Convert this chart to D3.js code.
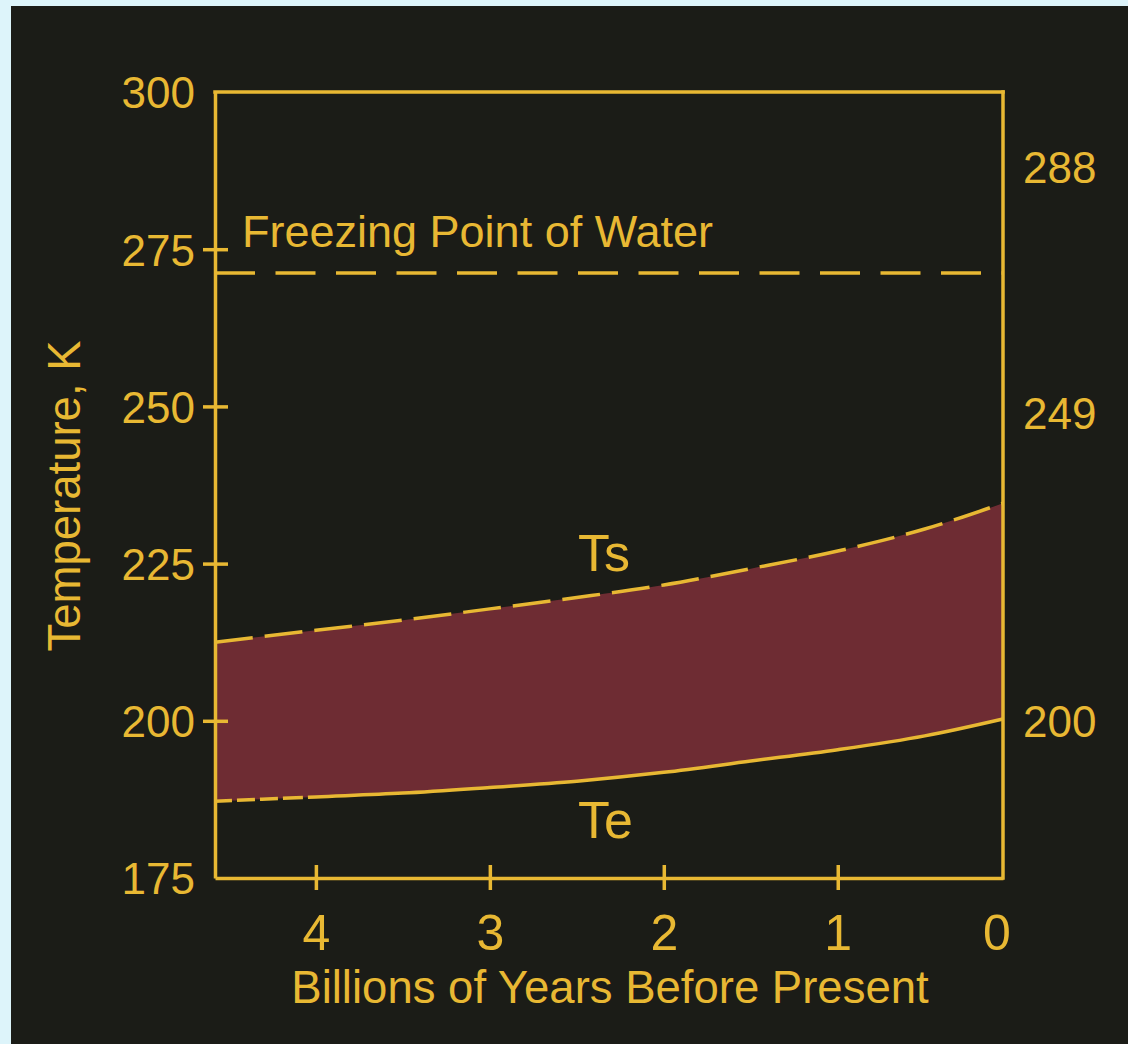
<!DOCTYPE html>
<html>
<head>
<meta charset="utf-8">
<script src="https://cdn.jsdelivr.net/npm/d3@7"></script>
<style>
  html, body { margin: 0; padding: 0; background: #ddf4fa; }
  svg { display: block; }
  text { font-family: "Liberation Sans", Arial, sans-serif; fill: #e8b833; }
</style>
</head>
<body>
<script>
// Age axis: billions of years before present (oldest on the left)
const years = [4.58, 4, 3.5, 3, 2.5, 2, 1.5, 1, 0.5, 0.05];
// Surface temperature Ts (K)
const surfaceTemp = [212.5, 214.4, 216.0, 217.8, 219.6, 221.6, 224.2, 227.0, 230.5, 234.6];
// Effective radiating temperature Te (K)
const effectiveTemp = [187.2, 187.9, 188.5, 189.4, 190.4, 191.8, 193.6, 195.4, 197.6, 200.3];
// Freezing point reference line (K)
const freezingLevel = [271.2];

const yTicks = [175, 200, 225, 250, 275, 300];
const xTicks = [4, 3, 2, 1];
const xEndLabel = ["0"];
const rightLabels = [288, 249, 200];

const gold = "#e8b833";
const band = "#6e2c33";
const W = 1128, H = 1044;

const svg = d3.select("body").append("svg").attr("width", W).attr("height", H);
svg.append("rect").attr("x", 11).attr("y", 6).attr("width", W - 11).attr("height", H - 6)
  .attr("fill", "#1b1c17");

const x = d3.scaleLinear().domain([years[0], years[years.length - 1]]).range([215, 1003]);
const y = d3.scaleLinear().domain([175, 300]).range([878, 92]);

const pts = years.map((v, i) => ({ t: v, ts: surfaceTemp[i], te: effectiveTemp[i] }));

// Band between the two temperatures
svg.append("path").datum(pts)
  .attr("fill", band)
  .attr("d", d3.area().x(d => x(d.t)).y0(d => y(d.te)).y1(d => y(d.ts)).curve(d3.curveMonotoneX));

// Ts curve (dashed)
svg.append("path").datum(pts)
  .attr("fill", "none").attr("stroke", gold).attr("stroke-width", 3.5)
  .attr("stroke-dasharray", "38,12")
  .attr("d", d3.line().x(d => x(d.t)).y(d => y(d.ts)).curve(d3.curveMonotoneX));

// Te curve (short dashes at the oldest end, then solid)
svg.append("path").datum(pts)
  .attr("fill", "none").attr("stroke", gold).attr("stroke-width", 3.5)
  .attr("stroke-dasharray", "17,5,18,5,18,5,20,5,3000")
  .attr("d", d3.line().x(d => x(d.t)).y(d => y(d.te)).curve(d3.curveMonotoneX));

// Freezing point line
svg.selectAll(".freeze").data(freezingLevel).enter().append("line")
  .attr("x1", x.range()[0]).attr("x2", x.range()[1])
  .attr("y1", d => y(d)).attr("y2", d => y(d))
  .attr("stroke", gold).attr("stroke-width", 3.5).attr("stroke-dasharray", "40,20.5");

// Left axis
const gy = svg.append("g").attr("transform", `translate(${x.range()[0]},0)`)
  .call(d3.axisLeft(y).tickValues(yTicks).tickSize(12).tickSizeOuter(0).tickPadding(8)
    .tickFormat(d3.format("d")));
gy.select(".domain").attr("stroke", gold).attr("stroke-width", 3.5);
gy.selectAll(".tick line").attr("stroke", gold).attr("stroke-width", 3.5).attr("x2", -12).attr("x1", 13)
  .attr("display", d => (d === 175 || d === 300) ? "none" : null);
gy.selectAll(".tick text").attr("fill", gold).style("font-size", "44px")
  .style("font-family", '"Liberation Sans", Arial, sans-serif').attr("dy", "0.36em");

// Bottom axis
const gx = svg.append("g").attr("transform", `translate(0,${y.range()[0]})`)
  .call(d3.axisBottom(x).tickValues(xTicks).tickSize(12).tickSizeOuter(0).tickFormat(d3.format("d")));
gx.select(".domain").attr("stroke", gold).attr("stroke-width", 3.5);
gx.selectAll(".tick line").attr("stroke", gold).attr("stroke-width", 3.5).attr("y1", -13).attr("y2", 12);
gx.selectAll(".tick text").attr("fill", gold).style("font-size", "50px")
  .style("font-family", '"Liberation Sans", Arial, sans-serif').attr("y", 72).attr("dy", 0);
gx.selectAll(".endlabel").data(xEndLabel).enter().append("text")
  .attr("x", x.range()[1] - 6).attr("y", 72).attr("text-anchor", "middle")
  .style("font-size", "50px").text(d => d);

// Top and right frame
svg.append("line").attr("x1", x.range()[0]).attr("x2", x.range()[1])
  .attr("y1", y.range()[1]).attr("y2", y.range()[1])
  .attr("stroke", gold).attr("stroke-width", 3.5).attr("stroke-linecap", "square");
svg.append("line").attr("x1", x.range()[1]).attr("x2", x.range()[1])
  .attr("y1", y.range()[1]).attr("y2", y.range()[0])
  .attr("stroke", gold).attr("stroke-width", 3.5).attr("stroke-linecap", "square");

// Right-hand labels
svg.selectAll(".rlab").data(rightLabels).enter().append("text")
  .attr("x", x.range()[1] + 20).attr("y", d => y(d)).attr("dy", "0.36em")
  .style("font-size", "44px").text(d => d);

// Annotations
svg.append("text").attr("x", 242).attr("y", 247).style("font-size", "45px").text("Freezing Point of Water");
svg.append("text").attr("x", 578).attr("y", 571).style("font-size", "52px").text("Ts");
svg.append("text").attr("x", 578).attr("y", 838).style("font-size", "52px").text("Te");

// Axis titles
svg.append("text").attr("x", 610).attr("y", 1003).attr("text-anchor", "middle")
  .style("font-size", "45.5px").text("Billions of Years Before Present");
svg.append("text").attr("transform", "translate(80,496) rotate(-90)").attr("text-anchor", "middle")
  .style("font-size", "45.5px").text("Temperature, K");
</script>
</body>
</html>
